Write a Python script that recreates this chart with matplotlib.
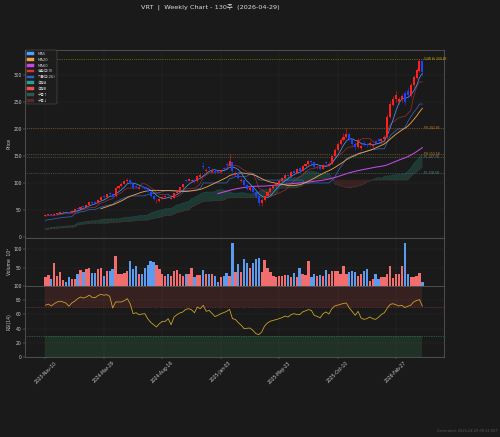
import matplotlib
matplotlib.use('Agg')  # no display in the sandbox
import numpy as np
import pandas as pd
import matplotlib.pyplot as plt
from matplotlib.patches import Patch

plt.rcParams['font.family'] = ['DejaVu Sans', 'Noto Sans CJK KR']

ticker = 'VRT'
n_weeks = 130
asof = '2026-04-29'
generated = 'Generated: 2026-04-29 09:31 KST'

tick_pos = [0, 20, 40, 60, 80, 100, 120]
tick_labels = ['2023-Nov-10', '2024-Mar-29', '2024-Aug-16', '2025-Jan-03',
               '2025-May-23', '2025-Oct-10', '2026-Feb-27']

#weekly candles
opens = [38.5, 40.5, 42.0, 40.5, 43.0, 44.0, 45.5, 47.0, 46.0, 44.0,
         48.5, 53.0, 52.0, 57.0, 55.5, 60.0, 64.0, 64.5, 63.5, 69.0,
         75.0, 73.5, 81.0, 80.0, 75.0, 90.0, 94.0, 99.0, 103.0, 106.0,
         99.0, 95.0, 89.0, 94.0, 93.0, 89.0, 84.0, 76.0, 66.0, 67.0,
         71.0, 74.0, 79.0, 71.0, 73.0, 81.0, 86.0, 92.0, 105.0, 104.0,
         103.0, 106.0, 103.0, 111.0, 132.0, 122.0, 129.0, 121.0, 123.0, 122.0,
         121.0, 128.0, 136.0, 131.0, 138.0, 115.0, 118.0, 103.0, 105.0, 96.0,
         87.0, 90.0, 84.0, 75.0, 62.0, 68.0, 76.0, 84.0, 90.0, 95.0,
         99.0, 104.0, 109.0, 115.0, 112.0, 122.0, 119.0, 127.0, 123.0, 131.0,
         135.0, 140.0, 138.0, 127.0, 129.0, 126.0, 139.0, 133.0, 136.0, 150.0,
         162.0, 172.0, 180.0, 186.0, 190.0, 181.0, 172.0, 166.0, 165.0, 175.0,
         173.0, 170.0, 168.0, 178.0, 181.0, 178.0, 181.0, 186.0, 222.0, 245.0,
         255.0, 250.0, 255.0, 266.0, 270.0, 264.0, 281.0, 295.0, 308.0, 326.0]
closes = [40.5, 42.0, 40.5, 43.0, 44.0, 45.5, 47.0, 46.0, 44.0, 48.5,
          51.0, 52.0, 56.0, 55.5, 60.0, 64.0, 62.5, 63.5, 69.0, 74.0,
          73.5, 79.0, 80.0, 74.0, 90.0, 94.0, 99.0, 103.0, 106.0, 99.0,
          91.0, 93.0, 91.0, 93.0, 89.0, 84.0, 76.0, 70.0, 67.0, 71.0,
          74.0, 75.0, 78.0, 73.0, 81.0, 86.0, 92.0, 98.0, 104.0, 107.0,
          105.0, 103.0, 113.0, 114.0, 130.0, 124.0, 127.0, 123.0, 120.0, 121.0,
          124.0, 126.0, 134.0, 141.0, 122.0, 117.0, 110.0, 105.0, 96.0, 89.0,
          90.0, 84.0, 75.0, 62.0, 68.0, 76.0, 84.0, 90.0, 95.0, 99.0,
          104.0, 109.0, 114.0, 112.0, 121.0, 119.0, 125.0, 123.0, 131.0, 135.0,
          140.0, 138.0, 130.0, 128.0, 126.0, 133.0, 137.0, 136.0, 150.0, 162.0,
          172.0, 180.0, 186.0, 190.0, 181.0, 172.0, 166.0, 180.0, 168.0, 171.0,
          170.0, 174.0, 170.0, 175.0, 178.0, 181.0, 186.0, 222.0, 246.0, 255.0,
          263.0, 256.0, 261.0, 250.0, 264.0, 282.0, 296.0, 309.0, 326.0, 305.0]
highs = [41.5, 43.0, 42.5, 44.0, 45.0, 46.5, 47.5, 48.0, 46.5, 49.0,
         52.0, 54.0, 57.0, 58.0, 61.0, 65.0, 65.5, 66.0, 70.0, 75.0,
         77.0, 80.0, 83.0, 81.0, 92.0, 96.0, 101.0, 105.0, 109.0, 107.0,
         100.0, 96.0, 94.0, 95.0, 94.0, 90.0, 85.0, 77.0, 70.0, 72.0,
         75.0, 77.0, 80.0, 76.0, 82.0, 87.0, 93.0, 99.0, 107.0, 109.0,
         108.0, 107.0, 115.0, 118.0, 138.0, 128.0, 131.0, 127.0, 125.0, 124.0,
         126.0, 130.0, 138.0, 153.58, 139.0, 123.0, 119.0, 110.0, 106.0, 98.0,
         93.0, 91.0, 86.0, 76.0, 72.0, 78.0, 86.0, 92.0, 97.0, 101.0,
         106.0, 111.0, 116.0, 117.0, 123.0, 124.0, 127.0, 129.0, 133.0, 137.0,
         142.0, 143.0, 139.0, 131.0, 131.0, 135.0, 141.0, 139.0, 152.0, 165.0,
         176.0, 184.0, 192.0, 202.83, 193.0, 184.0, 176.0, 184.0, 172.0, 178.0,
         175.0, 177.0, 173.0, 180.0, 183.0, 184.0, 189.0, 228.0, 252.0, 262.0,
         270.0, 260.0, 265.0, 270.0, 278.0, 285.0, 300.0, 313.0, 330.83, 329.0]
lows = [38.0, 40.0, 39.5, 40.0, 42.5, 43.5, 45.0, 45.0, 43.0, 43.5,
        48.0, 51.0, 51.5, 54.5, 55.0, 59.5, 61.5, 62.5, 63.0, 68.5,
        72.0, 73.0, 78.0, 72.0, 74.0, 88.0, 93.0, 98.0, 100.0, 97.0,
        89.0, 90.0, 88.0, 91.0, 88.0, 83.0, 74.0, 68.0, 62.0, 65.0,
        70.0, 72.0, 76.0, 70.0, 72.0, 80.0, 85.0, 91.0, 101.0, 103.0,
        101.0, 100.0, 102.0, 109.0, 126.0, 119.0, 124.0, 119.0, 117.0, 118.0,
        119.0, 123.0, 130.0, 129.0, 112.0, 112.0, 108.0, 101.0, 94.0, 87.0,
        85.0, 82.0, 73.0, 58.0, 57.0, 66.0, 75.0, 82.0, 88.0, 93.0,
        98.0, 102.0, 107.0, 110.0, 111.0, 116.0, 118.0, 121.0, 122.0, 129.0,
        133.0, 135.0, 128.0, 125.0, 124.0, 125.0, 134.0, 131.0, 135.0, 149.0,
        160.0, 170.0, 178.0, 183.0, 178.0, 168.0, 162.0, 164.0, 162.0, 168.0,
        166.0, 168.0, 165.0, 172.0, 175.0, 176.0, 179.0, 184.0, 220.0, 242.0,
        250.0, 246.0, 250.0, 244.0, 258.0, 260.0, 278.0, 292.0, 305.0, 298.0]

#volume in millions
volumes = [24, 29, 20, 62, 27, 38, 16, 10, 23, 18,
           18, 32, 43, 38, 45, 49, 35, 34, 46, 49,
           28, 40, 40, 45, 82, 33, 33, 36, 40, 67,
           45, 54, 32, 32, 49, 58, 67, 65, 56, 45,
           32, 27, 32, 27, 40, 42, 33, 27, 33, 33,
           49, 23, 29, 29, 42, 33, 33, 33, 27, 11,
           25, 27, 36, 27, 115, 38, 60, 38, 74, 62,
           49, 62, 74, 77, 39, 71, 49, 39, 27, 23,
           27, 27, 30, 30, 25, 36, 23, 49, 33, 30,
           67, 25, 33, 27, 30, 27, 42, 32, 40, 40,
           40, 32, 55, 33, 39, 40, 39, 27, 32, 40,
           46, 14, 18, 32, 18, 23, 23, 32, 54, 21,
           32, 32, 54, 115, 33, 23, 25, 27, 34, 12]

rsi = [73, 74.5, 72, 75, 77.5, 78.5, 77.5, 76, 71.5, 76,
       78.5, 82, 84.5, 83, 84.5, 87, 84, 83.5, 86.5, 88.3,
       87, 87.8, 85.4, 69, 77.5, 77.5, 77.5, 79.3, 82.2, 75,
       61, 62.4, 59.6, 60.5, 61, 54, 49, 45.5, 42.3, 47,
       50.2, 50.2, 54, 45.5, 56.3, 59.6, 62, 63.4, 67.1, 68,
       66.5, 62.4, 70.4, 68, 72.8, 64.3, 65.7, 61.5, 57, 58.7,
       61, 62.5, 64.3, 67.1, 54, 53, 48.4, 44.6, 40, 40.5,
       40.8, 37.6, 33, 31.5, 35.2, 43.7, 48, 50.5, 51.6, 52.8,
       54, 55.5, 57.7, 56.3, 59.5, 61, 60, 59.6, 63.4, 65,
       66.7, 65.7, 58.5, 57.3, 55, 61, 63.5, 60.5, 68, 71.8,
       73, 74.2, 75.5, 76, 69, 64, 58.7, 64.3, 55, 53,
       54, 56.3, 54, 53, 56, 60, 62.4, 69, 74.2, 75,
       73.5, 71.8, 72.8, 69.5, 71.5, 72.8, 77.5, 79.5, 80.8, 71.8]

#weekly closes before the first candle (2022-05-13 .. 2023-11-03), only feed the ichimoku
hist_close = [11.0, 10.5, 11.5, 11.8, 10.5, 9.0, 9.5, 8.6, 9.3, 9.2,
              10.0, 11.6, 12.8, 13.4, 12.6, 11.7, 11.0, 11.6, 10.9, 9.9,
              9.7, 9.6, 9.8, 11.0, 12.9, 13.5, 15.0, 14.6, 14.7, 14.4,
              14.0, 13.3, 13.4, 13.7, 14.0, 14.6, 14.9, 15.3, 15.5, 15.0,
              15.6, 16.3, 15.9, 14.2, 13.6, 13.3, 14.4, 14.8, 15.2, 15.0,
              16.4, 17.5, 18.0, 19.5, 21.0, 22.0, 22.8, 24.0, 23.5, 24.8,
              25.0, 25.8, 26.2, 33.5, 35.5, 37.0, 38.5, 39.0, 40.5, 38.8,
              38.5, 36.9, 37.2, 38.5, 39.0, 36.0, 37.5, 39.0]

level_values = [330.83, 202.83, 153.58, 147.78, 118.58]
level_names = ['52W Hi', 'PH', 'PH', 'PL', 'PL']

#colours
BG = '#1a1a1a'
TXT = '#cccccc'
UP = '#ff1f1f'
DOWN = '#2040ff'
VUP = '#f26d6d'
VDOWN = '#5b9cf0'
level_colours = {'52W Hi': '#c9b200', 'PH': '#d07a20', 'PL': '#5f8a8a'}

o = np.array(opens); c = np.array(closes)
h = np.array(highs); l = np.array(lows)
x = np.arange(len(c))

#moving averages on the visible weeks
cs = pd.Series(c)
ma5 = cs.rolling(5).mean()
ma20 = cs.rolling(20).mean()
ma60 = cs.rolling(60).mean()

#ichimoku needs the earlier weeks too
full_hi = pd.Series(hist_close + highs)
full_lo = pd.Series(hist_close + lows)
tenkan = (full_hi.rolling(9).max() + full_lo.rolling(9).min()) / 2
kijun = (full_hi.rolling(26).max() + full_lo.rolling(26).min()) / 2
span_a = ((tenkan + kijun) / 2).shift(26)
span_b = ((full_hi.rolling(52).max() + full_lo.rolling(52).min()) / 2).shift(26)
n_hist = len(hist_close)
tenkan = tenkan.values[n_hist:]
kijun = kijun.values[n_hist:]
span_a = span_a.values[n_hist:]
span_b = span_b.values[n_hist:]

fig = plt.figure(figsize=(16, 13.984), dpi=31.25, facecolor=BG)
gs = fig.add_gridspec(3, 1, height_ratios=[188, 48, 71], left=0.05, right=0.888,
                      top=0.886, bottom=0.183, hspace=0)
ax = fig.add_subplot(gs[0])
axv = fig.add_subplot(gs[1], sharex=ax)
axr = fig.add_subplot(gs[2], sharex=ax)

for a in (ax, axv, axr):
    a.set_facecolor(BG)
    for s in a.spines.values():
        s.set_color('#5a5a5a')
        s.set_linewidth(1.8)
    a.tick_params(colors='#aaaaaa', labelcolor=TXT, labelsize=10.5, length=4)
    a.grid(True, color='#2c2c2c', linewidth=1.0)
    a.set_axisbelow(True)

#--- price panel ---
ax.fill_between(x, span_a, span_b, where=span_a >= span_b, interpolate=True,
                color='#2a8a78', alpha=0.28, linewidth=0)
ax.fill_between(x, span_a, span_b, where=span_a < span_b, interpolate=True,
                color='#8a3030', alpha=0.3, linewidth=0)
ax.plot(x, span_a, color='#2aa198', lw=1.3, ls=':', alpha=0.7)
ax.plot(x, span_b, color='#d04848', lw=1.3, ls=':', alpha=0.7)
ax.plot(x, tenkan, color='#b03434', lw=1.6, alpha=0.85)
ax.plot(x, kijun, color='#2f62b8', lw=1.8)
ax.plot(x, ma60, color='#c648e8', lw=2.4)
ax.plot(x, ma20, color='#f0a048', lw=2.0)
ax.plot(x, ma5, color='#4aa3ff', lw=1.6)

col = np.where(c >= o, UP, DOWN)
ax.vlines(x, l, h, color=col, lw=1.2, zorder=3)
body = np.maximum(np.abs(c - o), 0.8)
ax.bar(x, body, bottom=np.minimum(o, c), width=0.7, color=col, linewidth=0, zorder=3)

for val, name in zip(level_values, level_names):
    lc = level_colours[name]
    ax.axhline(val, color=lc, ls=':', lw=1.6, alpha=0.85)
    ax.text(129.6, val, f'{name} {val:.2f}', color=lc, fontsize=7, va='center', ha='left')

ax.set_ylim(-2, 347)
ax.set_yticks([0, 50, 100, 150, 200, 250, 300])
ax.set_ylabel('Price', color=TXT, fontsize=10.5)
ax.tick_params(labelbottom=False)

handles = [Patch(color='#4aa3ff', label='MA5'),
           Patch(color='#f0a048', label='MA20'),
           Patch(color='#c648e8', label='MA60'),
           Patch(color='#e03030', label='전환선(9)'),
           Patch(color='#2f62c8', label='기준선(26)'),
           Patch(color='#2aa198', label='선행A'),
           Patch(color='#f05050', label='선행B'),
           Patch(color='#285a50', label='구름↑'),
           Patch(color='#5a2a2a', label='구름↓')]
leg = ax.legend(handles=handles, loc='upper left', fontsize=8.5, facecolor='#1e1e1e',
                edgecolor='#666666', labelcolor=TXT, borderaxespad=0.15, framealpha=0.95)

#--- volume panel ---
vcol = np.where(c >= o, VUP, VDOWN)
axv.bar(x, volumes, width=0.8, color=vcol, linewidth=0)
axv.set_ylim(0, 130)
axv.set_yticks([50, 100])
axv.set_ylabel('Volume  10⁶', color=TXT, fontsize=10.5)
axv.tick_params(labelbottom=False)

#--- rsi panel ---
axr.fill_between(x, 70, 100, color='#ff4d4d', alpha=0.13, linewidth=0)
axr.fill_between(x, 0, 30, color='#4dcc70', alpha=0.13, linewidth=0)
axr.axhline(70, color='#b04545', ls=':', lw=1.5)
axr.axhline(30, color='#3f9f5f', ls=':', lw=1.5)
axr.plot(x, rsi, color='#d4a82a', lw=1.8)
axr.set_ylim(0, 100)
axr.set_yticks([0, 20, 40, 60, 80, 100])
axr.set_ylabel('RSI(14)', color=TXT, fontsize=10.5)
axr.set_xticks(tick_pos)
axr.set_xticklabels(tick_labels, rotation=45, fontsize=10.5)
axr.set_xlim(-7, 136.4)

fig.text(0.42, 0.984, f'{ticker}  |  Weekly Chart - {n_weeks}주  ({asof})',
         ha='center', va='center', fontsize=15, color='#dddddd')
fig.text(0.994, 0.0137, generated, ha='right', va='center', fontsize=8,
         color='#555555', style='italic')

fig.savefig('out.png', dpi=31.25, facecolor=BG)
